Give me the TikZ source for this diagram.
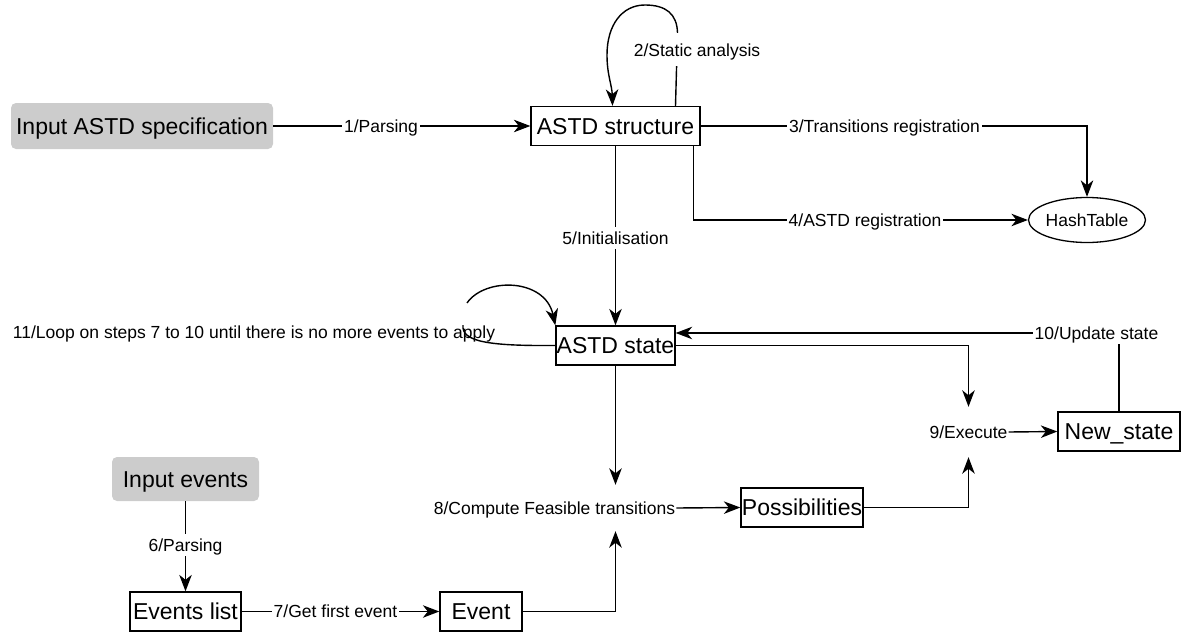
\documentclass[tikz,border=0pt]{standalone}
\usepackage{fontspec}
\setmainfont{Liberation Sans}
\usetikzlibrary{arrows.meta,shapes.geometric}
\definecolor{inputgray}{RGB}{204,204,204}
\newcommand\boxfont{\fontsize{23}{27}\selectfont}
\newcommand\lblfont{\fontsize{17.5}{21}\selectfont}
\begin{document}
\begin{tikzpicture}[x=1pt,y=-1pt,
  box/.style={draw, line width=1.3pt, minimum height=39pt, inner sep=0pt,
              text height=16.5pt, text depth=0pt, font=\boxfont},
  inbox/.style={fill=inputgray, rounded corners=5pt, inner sep=0pt,
              text height=16.5pt, text depth=0pt, font=\boxfont},
  lbl/.style={fill=white, inner xsep=2pt, inner ysep=5pt,
              text height=12.6pt, text depth=0pt, font=\lblfont},
  arr/.style={line width=1.4pt, -{Stealth[length=16.5pt,width=12.5pt,inset=5pt]}},
  ln/.style={line width=1.4pt}]
\useasboundingbox (0,0) rectangle (1183,634);

% states and inputs
\node[inbox, minimum width=262pt, minimum height=46pt] (spec) at (142,126) {Input ASTD specification};
\node[box, minimum width=169pt] (as) at (615.5,126) {ASTD structure};
\node[draw, ellipse, line width=1.3pt, minimum width=102pt, minimum height=45pt,
      inner sep=0pt, font=\lblfont] (ht) at (1087,220) {HashTable};
\node[box, minimum width=119pt] (st) at (615.5,345.5) {ASTD state};
\node[box, minimum width=122pt] (ns) at (1119,431.5) {New\_state};
\node[box, minimum width=122pt] (poss) at (802,507.5) {Possibilities};
\node[inbox, minimum width=147pt, minimum height=44pt] (inev) at (185.5,479) {Input events};
\node[box, minimum width=111pt] (evl) at (185.5,611.5) {Events list};
\node[box, minimum width=82pt] (ev) at (481,611.5) {Event};

% junction steps
\node[lbl, fill=none, inner xsep=1pt, minimum height=50pt] (exec) at (968.5,432) {9/Execute};
\node[lbl, fill=none, inner xsep=1pt, minimum height=46pt] (comp) at (554.5,508) {8/Compute Feasible transitions};

% 1 - parsing of the specification
\draw[arr] (spec.east) -- (as.west);
\node[lbl] at (381,126) {1/Parsing};

% 2 - static analysis loop
\draw[arr] ([xshift=60pt]as.north) -- ++(2,-73)
  .. controls (677,14) and (666,5) .. (645,5)
  .. controls (622,5) and (607,25) .. (607,55)
  .. controls (607,75) and (612,85) .. ([xshift=-3pt]as.north);
\node[lbl, minimum height=33pt] at (697,50) {2/Static analysis};

% 3, 4 - registrations
\draw[arr] (as.east) -| (ht.north);
\node[lbl] at (884.5,126) {3/Transitions registration};
\draw[arr] ([xshift=-7pt]as.south east) |- (ht.west);
\node[lbl] at (865,220) {4/ASTD registration};

% 5 - initialisation
\draw[arr] (as.south) -- (st.north);
\node[lbl] at (615.5,238) {5/Initialisation};

% 11 - main loop
\coordinate (l11a) at (463,325);
\coordinate (l11b) at (467,303);
\draw[ln] (st.west) .. controls (490,346) and (461,342) .. (l11a);
\draw[arr] (l11b) .. controls (485,277) and (545,278) .. (st.north west);
\node[lbl, fill=none] at (254,332) {11/Loop on steps 7 to 10 until there is no more events to apply};

% 6, 7 - events
\draw[arr] (inev.south) -- (evl.north);
\node[lbl] at (185.5,545) {6/Parsing};
\draw[arr] (evl.east) -- (ev.west);
\node[lbl] at (335.5,611.5) {7/Get first event};

% 8 - feasible transitions
\draw[arr] (st.south) -- (st.south |- comp.north);
\draw[arr] (ev.east) -| (st.south |- comp.south);
\draw[arr] (comp.east) -- (poss.west);

% 9 - execution
\draw[arr] (st.east) -| (exec.north);
\draw[arr] (poss.east) -| (exec.south);
\draw[arr] (exec.east) -- (ns.west);

% 10 - state update
\coordinate (c10) at (1119,333);
\draw[arr] (ns.north) -- (c10) -- (st.east |- c10);
\node[lbl] at (1096.5,333) {10/Update state};
\end{tikzpicture}
\end{document}
